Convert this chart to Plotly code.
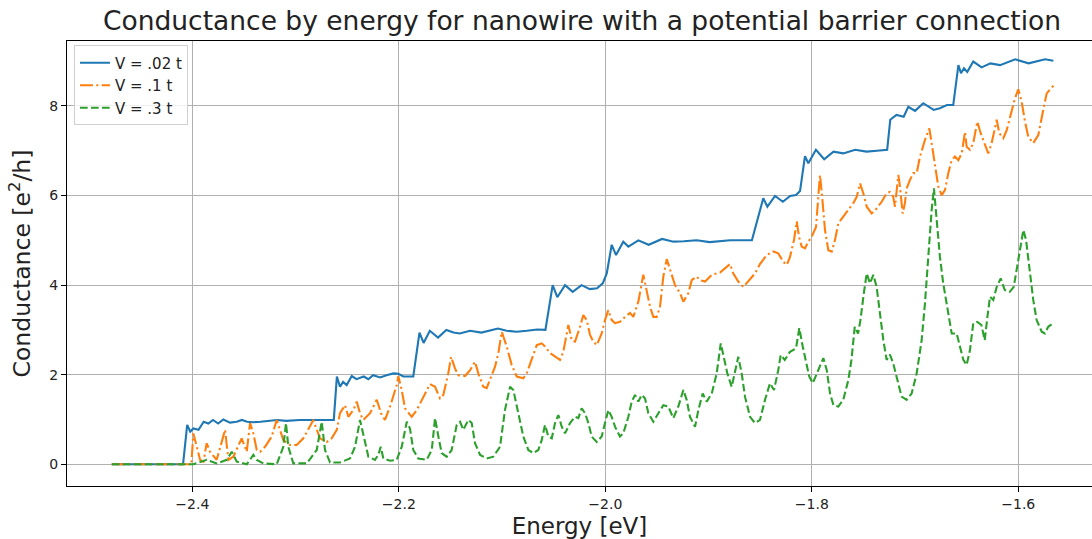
import plotly.graph_objects as go

# Energy samples (eV) and conductance (e^2/h) for each barrier height
energy_v002 = [-2.478, -2.409, -2.405, -2.402, -2.399, -2.394, -2.389, -2.3845, -2.380, -2.375,
               -2.370, -2.3635, -2.357, -2.352, -2.347, -2.341, -2.334, -2.328, -2.318, -2.309,
               -2.296, -2.283, -2.270, -2.263, -2.260, -2.257, -2.254, -2.2505, -2.2456, -2.241,
               -2.234, -2.2295, -2.225, -2.218, -2.212, -2.205, -2.2005, -2.1956, -2.189, -2.186,
               -2.180, -2.176, -2.170, -2.162, -2.154, -2.147, -2.141, -2.131, -2.120, -2.112,
               -2.104, -2.0955, -2.086, -2.076, -2.066, -2.058, -2.051, -2.0465, -2.039, -2.0316,
               -2.023, -2.015, -2.008, -2.0025, -1.9986, -1.9938, -1.9896, -1.9826, -1.9777, -1.968,
               -1.958, -1.945, -1.934, -1.924, -1.9115, -1.899, -1.879, -1.858, -1.847, -1.843,
               -1.8356, -1.828, -1.821, -1.8153, -1.8114, -1.8066, -1.8034, -1.796, -1.788, -1.779,
               -1.7695, -1.758, -1.747, -1.737, -1.727, -1.724, -1.718, -1.711, -1.7065, -1.700,
               -1.692, -1.682, -1.676, -1.669, -1.663, -1.658, -1.6555, -1.6526, -1.6494, -1.6436,
               -1.6355, -1.627, -1.6177, -1.603, -1.590, -1.574, -1.566]
cond_v002 = [0, 0, 0.88, 0.73, 0.80, 0.77, 0.95, 0.91, 0.99, 0.91,
             1.00, 0.93, 0.95, 0.99, 0.95, 0.94, 0.95, 0.97, 0.99, 0.97,
             0.99, 0.99, 0.99, 0.99, 1.96, 1.73, 1.84, 1.77, 1.97, 1.90,
             1.96, 1.90, 1.99, 1.94, 1.99, 2.03, 2.02, 1.96, 1.96, 1.96,
             2.94, 2.71, 2.98, 2.83, 3.00, 2.94, 2.92, 2.98, 2.94, 2.98,
             3.03, 2.98, 2.96, 2.98, 3.01, 3.00, 4.00, 3.73, 4.00, 3.85,
             4.00, 3.91, 3.93, 4.04, 4.26, 4.90, 4.67, 4.97, 4.86, 5.00,
             4.90, 5.03, 4.97, 4.98, 5.00, 4.96, 5.00, 5.00, 5.94, 5.75,
             5.99, 5.86, 5.99, 6.01, 6.10, 6.88, 6.72, 7.02, 6.81, 6.98,
             6.94, 7.02, 6.98, 7.00, 7.02, 7.69, 7.80, 7.76, 7.98, 7.89,
             8.06, 7.91, 7.95, 8.02, 8.02, 8.91, 8.73, 8.84, 8.76, 8.99,
             8.86, 8.95, 8.91, 9.04, 8.95, 9.04, 9.01]

energy_v01 = [-2.478, -2.401, -2.399, -2.3925, -2.3893, -2.3861, -2.3829, -2.3764, -2.3683, -2.3651,
              -2.3603, -2.3555, -2.3522, -2.3473, -2.3441, -2.3409, -2.3376, -2.3344, -2.3296, -2.3231,
              -2.3183, -2.3151, -2.3119, -2.3054, -2.2989, -2.2925, -2.2860, -2.2828, -2.2795, -2.2763,
              -2.2698, -2.2650, -2.2601, -2.2570, -2.2521, -2.2489, -2.2441, -2.2408, -2.2376, -2.2344,
              -2.2279, -2.2247, -2.2214, -2.2166, -2.2134, -2.2085, -2.2053, -2.2020, -2.2005, -2.1972,
              -2.1940, -2.1875, -2.1827, -2.1763, -2.1698, -2.1649, -2.1601, -2.1569, -2.1521, -2.1494,
              -2.1456, -2.1424, -2.1359, -2.1310, -2.1262, -2.1230, -2.1182, -2.1149, -2.1117, -2.1068,
              -2.1036, -2.1003, -2.0955, -2.0907, -2.0858, -2.0794, -2.0761, -2.0729, -2.0697, -2.0664,
              -2.0616, -2.0584, -2.0535, -2.0487, -2.0439, -2.0407, -2.0358, -2.0325, -2.0293, -2.0245,
              -2.0213, -2.0180, -2.0148, -2.0116, -2.0083, -2.0035, -2.0003, -1.9971, -1.9938, -1.9906,
              -1.9858, -1.9809, -1.9761, -1.9729, -1.9680, -1.9632, -1.9599, -1.9567, -1.9535, -1.9502,
              -1.9470, -1.9438, -1.9405, -1.9373, -1.9325, -1.9276, -1.9244, -1.9196, -1.9163, -1.9115,
              -1.9083, -1.9034, -1.8969, -1.8889, -1.8840, -1.8792, -1.8760, -1.8712, -1.8663, -1.8615,
              -1.8550, -1.8502, -1.8437, -1.8373, -1.8325, -1.8276, -1.8243, -1.8211, -1.8172, -1.8146,
              -1.8124, -1.8098, -1.8066, -1.8034, -1.8001, -1.7959, -1.7937, -1.7921, -1.7901, -1.7872,
              -1.7840, -1.7807, -1.7775, -1.7743, -1.7695, -1.7646, -1.7598, -1.7565, -1.7533, -1.7501,
              -1.7468, -1.7420, -1.7372, -1.7323, -1.7275, -1.7243, -1.7211, -1.7194, -1.7178, -1.7162,
              -1.7146, -1.7120, -1.7098, -1.7081, -1.7049, -1.7017, -1.6984, -1.6952, -1.6904, -1.6862,
              -1.6839, -1.6807, -1.6775, -1.6742, -1.6710, -1.6678, -1.6645, -1.6613, -1.6581, -1.6548,
              -1.6516, -1.6500, -1.6468, -1.6436, -1.6397, -1.6364, -1.6332, -1.6291, -1.6258, -1.6226,
              -1.6209, -1.6184, -1.6145, -1.6112, -1.6074, -1.6032, -1.6000, -1.5967, -1.5935, -1.5903,
              -1.5855, -1.5806, -1.5758, -1.5725, -1.566]
cond_v01 = [0, 0, 0.69, 0.10, 0.06, 0.47, 0.28, 0.10, 0.77, 0.10,
            0.17, 0.43, 0.58, 0.28, 0.92, 0.69, 0.32, 0.28, 0.39, 0.62,
            0.99, 0.77, 0.54, 0.43, 0.43, 0.58, 0.84, 0.99, 0.77, 0.58,
            0.50, 0.58, 0.77, 1.14, 1.32, 1.06, 1.21, 1.40, 1.14, 0.99,
            1.14, 1.29, 1.44, 1.10, 0.99, 1.29, 1.51, 1.77, 1.97, 1.66,
            1.25, 1.06, 1.21, 1.51, 1.79, 1.73, 1.47, 1.55, 2.03, 2.40,
            2.14, 1.99, 1.97, 2.10, 2.29, 2.03, 1.73, 1.70, 1.88, 2.18,
            2.48, 2.96, 2.63, 2.22, 1.96, 1.92, 2.03, 2.25, 2.48, 2.66,
            2.70, 2.63, 2.48, 2.40, 2.33, 2.51, 3.11, 2.77, 2.74, 3.07,
            3.33, 3.22, 2.89, 2.74, 2.66, 2.92, 3.22, 3.44, 3.22, 3.15,
            3.18, 3.29, 3.38, 3.29, 3.63, 4.23, 3.89, 3.52, 3.29, 3.29,
            3.52, 4.19, 4.58, 4.34, 4.00, 3.82, 3.63, 3.82, 4.11, 4.19,
            4.11, 4.08, 4.23, 4.28, 4.37, 4.47, 4.26, 4.08, 3.96, 4.08,
            4.26, 4.47, 4.67, 4.75, 4.71, 4.52, 4.45, 4.63, 5.01, 5.42,
            5.08, 4.86, 4.82, 4.97, 5.08, 5.30, 5.97, 6.46, 6.01, 5.23,
            4.78, 4.75, 5.01, 5.38, 5.53, 5.68, 5.83, 5.97, 6.27, 6.05,
            5.75, 5.60, 5.71, 5.86, 6.05, 6.08, 5.97, 5.75, 6.05, 6.46,
            6.20, 5.60, 5.83, 6.16, 6.35, 6.50, 6.50, 6.87, 7.24, 7.50,
            7.17, 6.64, 6.20, 6.01, 6.12, 6.50, 6.79, 6.87, 6.79, 6.94,
            7.42, 7.09, 7.02, 7.17, 7.65, 7.39, 7.17, 6.94, 7.17, 7.50,
            7.69, 7.39, 7.28, 7.46, 7.80, 8.17, 8.37, 8.09, 7.65, 7.31,
            7.17, 7.35, 7.91, 8.28, 8.45]

energy_v03 = [-2.478, -2.399, -2.3861, -2.3764, -2.3667, -2.3618, -2.3570, -2.3473, -2.3409, -2.3376,
              -2.3312, -2.3183, -2.3119, -2.3093, -2.3070, -2.3022, -2.2892, -2.2795, -2.2747, -2.2715,
              -2.2666, -2.2570, -2.2473, -2.2424, -2.2376, -2.2344, -2.2295, -2.2231, -2.2199, -2.2175,
              -2.2150, -2.2085, -2.2020, -2.1972, -2.1923, -2.1892, -2.1860, -2.1811, -2.1730, -2.1681,
              -2.1649, -2.1617, -2.1585, -2.1536, -2.1488, -2.1439, -2.1407, -2.1375, -2.1327, -2.1294,
              -2.1262, -2.1213, -2.1149, -2.1085, -2.1020, -2.0972, -2.0923, -2.0891, -2.0843, -2.0794,
              -2.0746, -2.0697, -2.0649, -2.0616, -2.0584, -2.0552, -2.0519, -2.0487, -2.0455, -2.0422,
              -2.0390, -2.0342, -2.0293, -2.0261, -2.0229, -2.0196, -2.0164, -2.0132, -2.0083, -2.0035,
              -2.0003, -1.9971, -1.9938, -1.9906, -1.9858, -1.9826, -1.9777, -1.9744, -1.9712, -1.9680,
              -1.9648, -1.9615, -1.9583, -1.9535, -1.9486, -1.9438, -1.9390, -1.9341, -1.9293, -1.9244,
              -1.9212, -1.9180, -1.9131, -1.9099, -1.9057, -1.9018, -1.8969, -1.8921, -1.8882, -1.8850,
              -1.8818, -1.8776, -1.8744, -1.8712, -1.8679, -1.8647, -1.8598, -1.8550, -1.8502, -1.8453,
              -1.8405, -1.8366, -1.8325, -1.8301, -1.8262, -1.8211, -1.8153, -1.8121, -1.8088, -1.8056,
              -1.8025, -1.7991, -1.7952, -1.7888, -1.7855, -1.7823, -1.7790, -1.7743, -1.7695, -1.7646,
              -1.7616, -1.7584, -1.7552, -1.7529, -1.7496, -1.7468, -1.7436, -1.7404, -1.7372, -1.7339,
              -1.7307, -1.7275, -1.7243, -1.7211, -1.7178, -1.7130, -1.7081, -1.7033, -1.6984, -1.6936,
              -1.6904, -1.6873, -1.6839, -1.6817, -1.6791, -1.6759, -1.6727, -1.6678, -1.6645, -1.6597,
              -1.6565, -1.6532, -1.6500, -1.6468, -1.6436, -1.6397, -1.6357, -1.6325, -1.6299, -1.6274,
              -1.6242, -1.6209, -1.6170, -1.6131, -1.6083, -1.6044, -1.6000, -1.5951, -1.5925, -1.5886,
              -1.5855, -1.5822, -1.5773, -1.5742, -1.5710, -1.566]
cond_v03 = [0, 0, 0.10, 0.02, 0.10, 0.28, 0.06, 0.00, 0.21, 0.10,
            0.02, 0.00, 0.39, 0.92, 0.39, 0.02, 0.02, 0.32, 0.95, 0.32,
            0.04, 0.04, 0.13, 0.39, 0.99, 0.69, 0.17, 0.10, 0.21, 0.39,
            0.13, 0.08, 0.10, 0.39, 0.95, 0.80, 0.32, 0.13, 0.10, 0.32,
            1.03, 0.62, 0.25, 0.17, 0.32, 0.88, 0.95, 0.77, 0.99, 0.92,
            0.47, 0.21, 0.13, 0.17, 0.39, 1.21, 1.73, 1.66, 1.14, 0.62,
            0.32, 0.25, 0.32, 0.54, 0.88, 0.62, 0.58, 0.92, 1.10, 0.84,
            0.69, 0.92, 1.06, 1.03, 1.25, 1.14, 0.92, 0.62, 0.50, 0.62,
            0.92, 1.21, 1.06, 0.84, 0.62, 0.69, 1.06, 1.40, 1.55, 1.40,
            1.55, 1.47, 1.14, 0.95, 1.14, 1.32, 1.29, 1.03, 1.29, 1.66,
            1.44, 1.06, 0.84, 1.21, 1.58, 1.40, 1.58, 2.03, 2.70, 2.40,
            2.03, 1.73, 2.10, 2.40, 2.03, 1.51, 1.06, 0.92, 0.99, 1.44,
            1.81, 1.66, 2.10, 2.44, 2.33, 2.51, 2.59, 3.04, 2.63, 2.25,
            1.96, 1.81, 2.03, 2.37, 2.10, 1.58, 1.32, 1.29, 1.44, 1.88,
            2.33, 3.07, 2.92, 3.22, 3.82, 4.26, 4.04, 4.23, 3.96, 3.37,
            2.77, 2.33, 2.45, 2.25, 1.96, 1.51, 1.44, 1.58, 2.03, 2.77,
            3.59, 4.63, 5.68, 6.16, 5.45, 4.63, 4.04, 3.37, 2.92, 2.92,
            2.63, 2.33, 2.22, 2.55, 3.15, 3.18, 3.11, 2.77, 3.29, 3.74,
            3.67, 3.96, 4.15, 3.89, 3.85, 3.96, 4.56, 5.23, 5.01, 4.26,
            3.67, 3.22, 2.96, 2.92, 3.07, 3.15]

series_names = ["V = .02 t", "V = .1 t", "V = .3 t"]
series_colors = ["#1f77b4", "#ff7f0e", "#2ca02c"]
series_dashes = ["solid", "13px,3.3px,2.1px,3.3px", "7.7px,3.3px"]
series_data = [(energy_v002, cond_v002), (energy_v01, cond_v01), (energy_v03, cond_v03)]

for xs, ys in series_data:
    assert len(xs) == len(ys)

FONT = "DejaVu Sans"

fig = go.Figure()
for (xs, ys), name, color, dash in zip(series_data, series_names, series_colors, series_dashes):
    fig.add_trace(go.Scatter(
        x=xs, y=ys, mode="lines", name=name,
        line=dict(color=color, width=2.1, dash=dash),
    ))

axis_common = dict(
    showgrid=True, gridcolor="#b0b0b0", gridwidth=1.1,
    zeroline=False, showline=True, linecolor="black", linewidth=1.1,
    ticks="outside", ticklen=5, tickwidth=1.1, tickcolor="black",
    tickfont=dict(family=FONT, size=14, color="#222222"),
)

fig.update_layout(
    width=1092, height=539,
    margin=dict(l=67, r=0, t=41, b=53),
    paper_bgcolor="white", plot_bgcolor="white",
    font=dict(family=FONT, color="#222222"),
    title=dict(
        text="Conductance by energy for nanowire with a potential barrier connection",
        font=dict(family=FONT, size=26.5, color="#222222"),
        x=582 / 1092, xref="container", xanchor="center",
        y=1 - 21 / 539, yref="container", yanchor="middle",
    ),
    xaxis=dict(
        range=[-2.5214, -1.5286], tickvals=[-2.4, -2.2, -2.0, -1.8, -1.6],
        tickformat=".1f", mirror=True,
        title=dict(text="Energy [eV]", font=dict(family=FONT, size=23, color="#222222"), standoff=8),
        **axis_common,
    ),
    yaxis=dict(
        range=[-0.484, 9.449], tickvals=[0, 2, 4, 6, 8],
        title=dict(text="Conductance [e<sup>2</sup>/h]", font=dict(family=FONT, size=23.5, color="#222222"),
                   standoff=12),
        **axis_common,
    ),
    legend=dict(
        x=0.0068, y=0.99, xanchor="left", yanchor="top",
        bgcolor="rgba(255,255,255,0.8)", bordercolor="#d0d0d0", borderwidth=1,
        font=dict(family=FONT, size=15, color="#222222"),
        tracegroupgap=0, itemwidth=30,
    ),
    showlegend=True,
)

fig.write_html("out.html")
